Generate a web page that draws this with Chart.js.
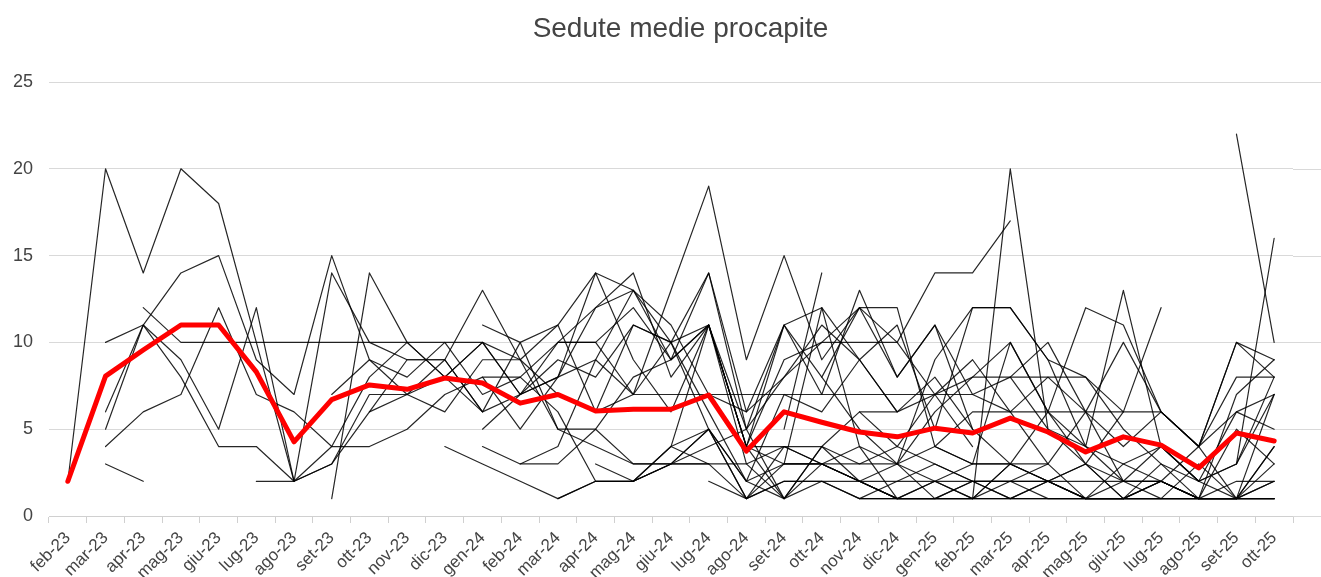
<!DOCTYPE html>
<html>
<head>
<meta charset="utf-8">
<title>Sedute medie procapite</title>
<script src="https://cdn.jsdelivr.net/npm/chart.js@4/dist/chart.umd.min.js"></script>
<style>
    html, body { margin: 0; padding: 0; background: #fff; }
    #chart { display: block; }
</style>
</head>
<body>
<canvas id="chart" width="1321" height="577"></canvas>
<script>
var chartTitle = 'Sedute medie procapite';

var months = ['feb-23', 'mar-23', 'apr-23', 'mag-23', 'giu-23', 'lug-23', 'ago-23', 'set-23', 'ott-23', 'nov-23', 'dic-23',
    'gen-24', 'feb-24', 'mar-24', 'apr-24', 'mag-24', 'giu-24', 'lug-24', 'ago-24', 'set-24', 'ott-24', 'nov-24', 'dic-24',
    'gen-25', 'feb-25', 'mar-25', 'apr-25', 'mag-25', 'giu-25', 'lug-25', 'ago-25', 'set-25', 'ott-25'];

var yTicks = [0, 5, 10, 15, 20, 25];

// media di tutti i pazienti (linea rossa)
var media = [2.0, 8.06, 9.56, 11.0, 11.0, 8.3, 4.27, 6.7, 7.55, 7.3, 7.95, 7.66, 6.5, 7.0, 6.05, 6.15, 6.15, 6.97,
    3.74, 6.0, 5.4, 4.84, 4.56, 5.06, 4.78, 5.64, 4.84, 3.69, 4.56, 4.08, 2.77, 4.78, 4.32];

// singoli pazienti: [mese di inizio, valori...]
var p01 = [0, 2, 20, 14, 20, 18, 10, 2, 14, 10, 9, 9, 13, 9, 11, 6, 11, 10, 14, 6, 11, 7, 13, 8, 11, 5];
var p02 = [1, 10, 11, 14, 15, 9, 7, 15, 9, 8, 10, 7, 8, 10, 10, 7, 13, 19, 9, 15, 9, 12, 10, 14, 14, 17];
var p03 = [1, 6, 11, 9, 5, 12, 2, 4, 8, 10, 8, 10, 7, 8, 12, 13, 9, 14, 5, 11, 12, 9, 6, 7, 8, 10, 6, 12, 11, 6, 4, 10, 9];
var p04 = [1, 5, 11, 8, 4, 4, 2, 3, 7, 7, 9, 6, 10, 5, 5, 3, 3, 3, 1, 4, 3, 2, 1];
var p05 = [1, 4, 6, 7, 12, 7, 6, 4, 4, 5, 7, 8, 8, 6, 2, 2, 4, 5, 1, 2];
var p06 = [1, 3, 2];
var p07 = [2, 12, 10, 10, 10, 10, 10, 10, 10, 10, 10, 9, 5, 4, 3, 3, 3];
var p08 = [5, 2, 2, 3, 6, 7, 6, 9, 9, 7, 6, 7, 7, 7, 7, 7, 7, 7, 7, 7, 4];
var p09 = [7, 1, 14, 10, 8, 6, 7, 8, 14, 9, 6, 11, 4, 9, 10, 10, 10, 7, 9, 6, 3];
var p10 = [7, 7, 9, 7, 8, 10, 7, 9, 8, 11, 10, 6, 2, 7, 6, 9, 11, 5, 12, 12, 9, 8, 6];
var p11 = [10, 4, 3, 2, 1, 2, 2, 3, 5, 1, 2, 2, 1, 1, 2, 1, 3, 2, 1, 1, 2];
var p12 = [11, 4, 3, 3, 5, 8, 9, 11, 3, 4, 4, 3, 4, 3, 2, 2, 1, 1, 1, 1, 1, 1, 1];
var p13 = [11, 5, 7, 10, 12, 14, 8, 11, 4, 1, 4, 6, 6, 8, 5, 3, 2, 3, 1, 3, 2, 1, 4];
var p14 = [11, 11, 10, 11, 14, 13, 11, 7, 6, 8, 10, 12, 8, 11, 7, 6, 8, 6, 4, 6, 4, 1, 7];
var p15 = [11, 8, 5, 8, 9, 7, 10, 11, 4, 11, 8, 5, 3, 6, 8, 8, 5, 4, 3, 4, 2, 3, 8];
var p16 = [12, 3, 4, 9, 13, 10, 5, 2, 3, 12, 4, 3, 2, 3, 10, 6, 3, 2, 4, 2, 3, 7];
var p17 = [13, 1, 2, 2, 4, 11, 4, 3, 3, 2, 1, 1, 1, 2, 3, 1, 1, 2, 1, 1, 4];
var p18 = [14, 3, 2, 3, 5, 2, 1, 2, 1, 2, 3, 2, 1, 2, 1, 2, 1, 1, 1, 2];
var p19 = [15, 2, 3, 4, 5, 1, 4, 2, 1, 1, 2, 1, 2, 1, 1, 1, 3, 1, 1];
var p20 = [17, 2, 1, 3, 3, 4, 1, 2, 1, 3, 6, 4, 2, 2, 1, 1, 2];
var p21 = [18, 4, 4, 3, 2, 1, 1, 1, 1, 1, 1, 1, 1, 1, 1, 1];
var p22 = [19, 2, 2, 2, 2, 2, 2, 2, 2, 2, 2, 2, 1, 2, 2];
var p23 = [19, 5, 14];
var p24 = [19, 3, 3, 3, 3, 4, 6, 6, 6, 6, 6, 6, 4, 6, 5];
var p25 = [20, 8, 12, 12, 4, 3, 3, 3, 6, 2, 2, 4, 8, 8];
var p26 = [21, 1, 1, 1, 1, 1, 1, 1, 1, 1, 1, 1, 1];
var p27 = [21, 6, 4, 7, 7, 8, 8, 8, 5, 3, 1, 7, 9];
var p28 = [22, 3, 9, 12, 12, 9, 4, 13, 4, 2, 6, 7];
var p29 = [23, 4, 3, 3, 2, 3, 6, 12];
var p30 = [25, 8, 10, 6, 10, 6, 4, 10, 8];
var p31 = [31, 22, 10];
var p32 = [31, 3, 16];
var p33 = [24, 1, 20, 5, 3, 1, 2, 1, 5, 3];
var p34 = [13, 10, 10, 12, 9, 11, 5, 8, 11, 9, 6];
var p35 = [16, 4, 3, 3, 1, 3, 2, 3, 1, 2, 2, 2, 1, 3, 2, 1, 1, 3];
var p36 = [8, 6, 9, 9, 6];

var pazienti = [p01, p02, p03, p04, p05, p06, p07, p08, p09, p10, p11, p12, p13, p14, p15, p16, p17, p18,
    p19, p20, p21, p22, p23, p24, p25, p26, p27, p28, p29, p30, p31, p32, p33, p34, p35, p36];

function toSeries(row) {
    var out = months.map(function() { return null; });
    for (var i = 1; i < row.length; i++) {
        out[row[0] + i - 1] = row[i];
    }
    return out;
}

var datasets = [{
    label: 'Media',
    data: media,
    borderColor: '#ff0000',
    borderWidth: 5,
    order: 0
}];

pazienti.forEach(function(row, i) {
    datasets.push({
        label: 'Paziente ' + (i + 1),
        data: toSeries(row),
        borderColor: 'rgba(0,0,0,0.85)',
        borderWidth: 1.2,
        order: 1
    });
});

var font = 'Arial, "Liberation Sans", sans-serif';

// le linee orizzontali proseguono fino al bordo destro
var gridToEdge = {
    id: 'gridToEdge',
    beforeDatasetsDraw: function(chart) {
        var ctx = chart.ctx;
        var y = chart.scales.y;
        ctx.save();
        ctx.strokeStyle = '#d9d9d9';
        ctx.lineWidth = 1;
        y.ticks.forEach(function(t) {
            var py = Math.round(y.getPixelForValue(t.value)) + 0.5;
            ctx.beginPath();
            ctx.moveTo(chart.chartArea.right, py);
            ctx.lineTo(chart.width, py);
            ctx.stroke();
        });
        ctx.restore();
    }
};

// titolo centrato come nell'originale (leggermente a destra del centro)
var titlePlugin = {
    id: 'titleText',
    afterDraw: function(chart) {
        var ctx = chart.ctx;
        ctx.save();
        ctx.fillStyle = '#444';
        ctx.font = '28px ' + font;
        ctx.textAlign = 'center';
        ctx.textBaseline = 'alphabetic';
        ctx.fillText(chartTitle, chart.width / 2 + 20, 37);
        ctx.restore();
    }
};

new Chart(document.getElementById('chart'), {
    type: 'line',
    data: { labels: months, datasets: datasets },
    options: {
        responsive: false,
        devicePixelRatio: 1,
        animation: false,
        spanGaps: false,
        elements: {
            point: { radius: 0, hoverRadius: 0 },
            line: { tension: 0, borderCapStyle: 'round', borderJoinStyle: 'round' }
        },
        layout: { padding: { left: 0, right: 28, top: 82, bottom: 0 } },
        plugins: {
            legend: { display: false },
            tooltip: { enabled: false },
            title: { display: false }
        },
        scales: {
            x: {
                offset: true,
                grid: { offset: true, drawOnChartArea: false, tickLength: 7, color: '#d0d0d0' },
                border: { color: '#d0d0d0' },
                ticks: {
                    autoSkip: false,
                    minRotation: 45,
                    maxRotation: 45,
                    padding: 5,
                    color: '#444',
                    font: { family: font, size: 17 }
                },
                afterFit: function(scale) { scale.height = 61; }
            },
            y: {
                min: 0,
                max: 25,
                grid: { color: '#d9d9d9', drawTicks: false },
                border: { display: false },
                ticks: {
                    stepSize: 5,
                    padding: 16,
                    color: '#444',
                    font: { family: font, size: 18 }
                },
                afterBuildTicks: function(scale) {
                    scale.ticks = yTicks.map(function(v) { return { value: v }; });
                },
                afterFit: function(scale) { scale.width = 49; }
            }
        }
    },
    plugins: [gridToEdge, titlePlugin]
});
</script>
</body>
</html>
